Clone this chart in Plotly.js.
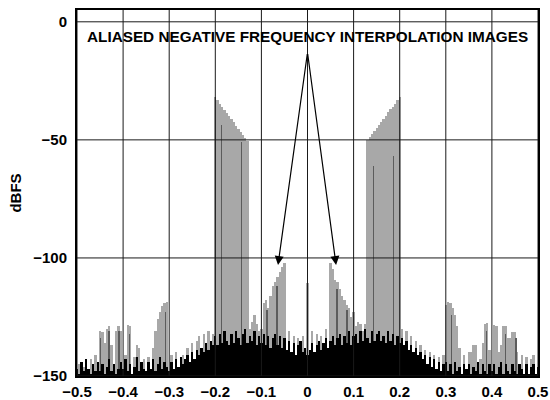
<!DOCTYPE html>
<html><head><meta charset="utf-8">
<script src="https://cdn.plot.ly/plotly-3.0.1.min.js"></script>
<style>html,body{margin:0;padding:0;background:#fff}#chart{width:550px;height:400px}</style>
</head><body><div id="chart"></div>
<script>
// ---- data (dBFS per FFT bin, bins start at -0.5 and step 0.005) ----
const FLOOR_DB = -150;
const freqStart = -0.5;
const binWidth = 0.005;

// black noise floor
const noiseFloor = [
 -147,-149,-144,-148,-143,-147,-149,-145,-148,-144,
 -148,-145,-149,-146,-143,-148,-145,-149,-147,-144,
 -147,-143,-148,-145,-149,-146,-142,-148,-144,-147,
 -148,-144,-147,-143,-148,-145,-142,-147,-144,-146,
 -148,-144,-147,-143,-146,-142,-145,-143,-141,-144,
 -140,-143,-139,-141,-138,-140,-136,-139,-135,-137,
 -133,-137,-132,-136,-131,-135,-137,-132,-136,-131,
 -134,-137,-132,-130,-136,-133,-135,-131,-137,-133,
 -136,-132,-137,-133,-138,-134,-132,-137,-133,-138,
 -134,-139,-135,-140,-136,-141,-137,-135,-140,-138,
 -141,-139,-136,-140,-137,-135,-139,-136,-134,-138,
 -135,-133,-137,-134,-132,-137,-133,-136,-131,-137,
 -133,-132,-136,-131,-135,-130,-134,-136,-131,-135,
 -132,-131,-135,-133,-136,-131,-135,-132,-137,-133,
 -136,-134,-137,-135,-139,-137,-140,-138,-141,-140,
 -143,-141,-145,-142,-146,-143,-147,-144,-148,-145,
 -144,-148,-145,-149,-144,-148,-146,-149,-145,-147,
 -145,-149,-146,-148,-144,-149,-145,-148,-149,-145,
 -148,-145,-149,-146,-144,-149,-145,-148,-149,-145,
 -148,-149,-145,-147,-149,-145,-149,-146,-145,-149,
 -146
];

// light gray: interpolation images and spurs (-150 = nothing above the floor)
const imageLevels = [
 -150,-145,-150,-146,-150,-150,-143,-150,-141,-150,
 -131,-131.5,-136,-130,-129,-137,-150,-131,-129,-131,
 -150,-141,-128.4,-129,-150,-142,-137,-138,-150,-143,
 -150,-142,-150,-138,-131,-126,-123,-120.5,-119,-118.5,
 -150,-141,-150,-140,-150,-150,-141,-150,-138,-150,
 -136,-150,-135,-133,-150,-132,-150,-131,-150,-132,
 -32,-33.3,-34.6,-36,-37.3,-38.6,-40,-41.3,-42.6,-44,
 -45.3,-46.6,-48,-49.3,-50.5,-130,-127,-124,-128,-131,
 -130,-119,-118,-121,-116,-112,-110,-108,-106,-104,
 -102,-150,-131,-150,-133,-150,-134,-150,-133,-150,
 -110.5,-150,-131,-150,-132,-150,-133,-150,-130,-150,
 -102,-104.5,-109.5,-110,-113,-116,-118,-120,-121,-125,
 -123,-129,-127,-128,-131,-128,-50,-48.7,-47.4,-46.1,
 -44.9,-43.6,-42.3,-41,-39.7,-38.4,-37.1,-35.9,-34.6,-33.3,
 -32,-130,-150,-131,-150,-133,-150,-135,-150,-137,
 -150,-139,-150,-140,-150,-141,-150,-142,-150,-141,
 -120,-118.5,-119,-121,-124,-129,-138,-150,-141,-150,
 -140,-140,-137,-137,-150,-143,-136,-128,-127.6,-139,
 -150,-128.4,-129,-140,-137,-129,-129,-134,-134,-131.4,
 -131.4,-140,-150,-141,-150,-142,-150,-143,-141,-150,
 -150
];

// dark gray individual spurs
const spurFreq  = [-0.449,-0.431,-0.409,-0.386,-0.308,-0.2,-0.186,-0.143,-0.088,-0.066,0.064,0.086,0.143,0.186,0.312,0.388,0.43,0.452];
const spurLevel = [-134,-131,-131,-132,-123,-32,-43.6,-50.7,-122,-112,-113,-122,-61,-56.7,-124,-131,-132,-134];

const xTicks = [-0.5,-0.4,-0.3,-0.2,-0.1,0,0.1,0.2,0.3,0.4,0.5];
const yTicks = [0,-50,-100,-150];
const yTitle = 'dBFS';
const labelText = 'ALIASED NEGATIVE FREQUENCY INTERPOLATION IMAGES';
const labelPos = {x: 0, y: -6.4};
const arrowApex = {x: 0, y: -13};
const arrowTipX = [-0.064, 0.062];
const arrowTipY = [-103, -103];

// ---- drawing ----
const toHeight = a => a.map(v => v - FLOOR_DB);
const font = {family: 'Liberation Sans, Arial, sans-serif', size: 15, color: '#000', weight: 'bold'};
const labelFont = Object.assign({}, font, {size: 15.3});

const traces = [
  {type: 'bar', x0: freqStart, dx: binWidth, y: toHeight(imageLevels), base: FLOOR_DB,
   width: binWidth, marker: {color: '#a8a8a8', line: {width: 0}}, hoverinfo: 'skip'},
  {type: 'bar', x: spurFreq, y: toHeight(spurLevel), base: FLOOR_DB,
   width: 0.003, marker: {color: '#5c5c5c', line: {width: 0}}, hoverinfo: 'skip'},
  {type: 'bar', x0: freqStart, dx: binWidth, y: toHeight(noiseFloor), base: FLOOR_DB,
   width: binWidth, marker: {color: '#000', line: {width: 0}}, hoverinfo: 'skip'}
];

const shapes = [];
xTicks.forEach(v => shapes.push({type: 'line', xref: 'x', yref: 'paper', x0: v, x1: v, y0: 0, y1: 1,
  line: {color: '#1a1a1a', width: 1}, layer: 'above'}));
yTicks.forEach(v => shapes.push({type: 'line', xref: 'paper', yref: 'y', x0: 0, x1: 1, y0: v, y1: v,
  line: {color: '#1a1a1a', width: 1}, layer: 'above'}));

const annotations = [
  {x: labelPos.x, y: labelPos.y, xref: 'x', yref: 'y', text: labelText, showarrow: false,
   font: labelFont, xanchor: 'center', yanchor: 'middle'}
];
arrowTipX.forEach((tx, i) => annotations.push({
  x: tx, y: arrowTipY[i], xref: 'x', yref: 'y', ax: arrowApex.x, ay: arrowApex.y,
  axref: 'x', ayref: 'y', text: '', showarrow: true, arrowhead: 2, arrowsize: 1.5,
  arrowwidth: 1.2, arrowcolor: '#000', standoff: 0
}));

const layout = {
  width: 550, height: 400,
  margin: {l: 77, r: 12, t: 10, b: 24},
  paper_bgcolor: '#fff', plot_bgcolor: '#fff',
  barmode: 'overlay', bargap: 0, showlegend: false,
  font: font,
  xaxis: {range: [-0.5, 0.5], tickvals: xTicks, showgrid: false, zeroline: false,
    showline: true, mirror: true, linecolor: '#000', linewidth: 2, ticks: '',
    tickfont: font, ticklabelstandoff: 1},
  yaxis: {range: [-150, 5], tickvals: yTicks, showgrid: false, zeroline: false,
    showline: true, mirror: true, linecolor: '#000', linewidth: 2, ticks: '',
    tickfont: font, ticklabelstandoff: 5,
    title: {text: yTitle, font: font, standoff: 8}},
  shapes: shapes,
  annotations: annotations
};

Plotly.newPlot('chart', traces, layout, {displayModeBar: false, staticPlot: true});
</script>
</body></html>
